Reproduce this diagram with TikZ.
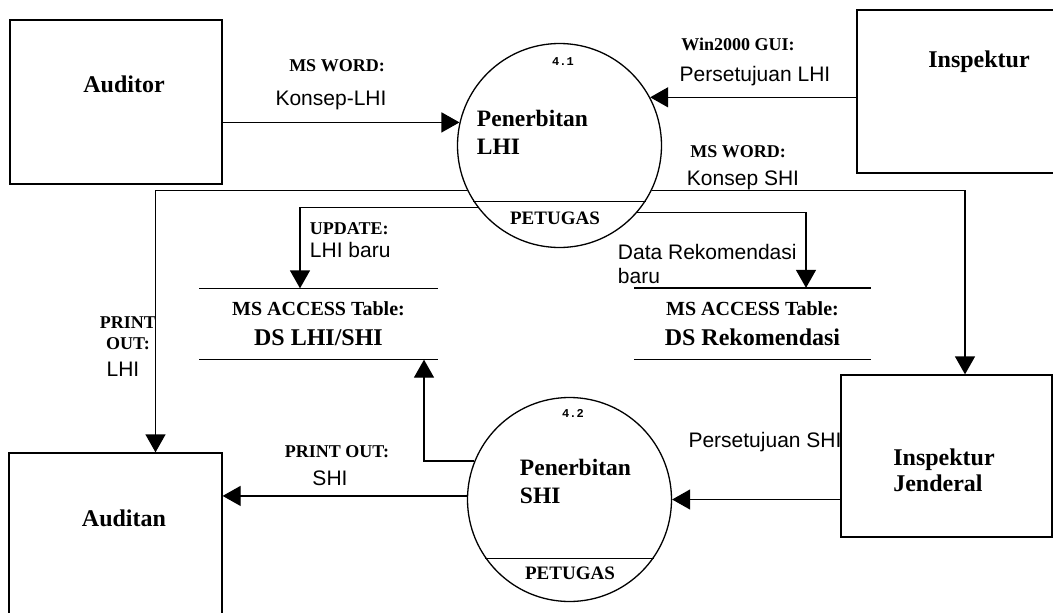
\documentclass[tikz,border=0pt]{standalone}
\usepackage{fontspec}
\setmainfont{Liberation Serif}
\setsansfont{Liberation Sans}
\setmonofont{Liberation Mono}
\usetikzlibrary{arrows.meta, calc}
\tikzset{
  every picture/.style={x=1pt, y=-1pt, line width=1.3pt},
  entity/.style={draw, inner sep=0pt},
  proc/.style={draw, circle, minimum size=204pt, inner sep=0pt},
  dstore/.style={minimum height=70pt, inner sep=0pt, align=center, font=\bfseries\fontsize{24}{30}\selectfont},
  flow/.style={-{Triangle[length=18pt, width=20pt]}},
  entname/.style={font=\bfseries\fontsize{24}{26}\selectfont, align=left},
  procname/.style={font=\bfseries\fontsize{23.5}{28}\selectfont, align=left, anchor=west},
  flowtag/.style={font=\bfseries\fontsize{18}{21}\selectfont, align=center},
  flowtext/.style={font=\sffamily\fontsize{21}{24}\selectfont, align=left},
  pnum/.style={font=\ttfamily\bfseries\fontsize{12}{14}\selectfont},
  staff/.style={font=\bfseries\fontsize{19}{21}\selectfont},
}
\begin{document}
\begin{tikzpicture}
  \useasboundingbox (0,0) rectangle (1053,613);
  % external entities
  \node[entity, minimum width=212pt, minimum height=164pt] (auditor) at (116,102) {};
  \node[entity, minimum width=244pt, minimum height=163pt] (inspektur) at (979,91.5) {};
  \node[entity, minimum width=211pt, minimum height=162pt] (injen) at (946.5,456) {};
  \node[entity, minimum width=213pt, minimum height=164pt] (auditan) at (115.5,535) {};
  \node[entname] at (124,84) {Auditor};
  \node[entname] at (979,62) {Inspektur};
  \node[entname] at (944,470) {Inspektur\\Jenderal};
  \node[entname] at (124,518) {Auditan};
  % processes
  \node[proc] (p41) at (559.5,145.5) {};
  \node[proc] (p42) at (569.5,499.5) {};
  \draw (p41.213) -- (p41.327);
  \draw (p42.215) -- (p42.325);
  \node[pnum] at (563,62) {4.1};
  \node[pnum] at (573,413) {4.2};
  \node[procname] at (473,132) {Penerbitan\\LHI};
  \node[procname] at (516,481.5) {Penerbitan\\SHI};
  \node[staff] at (555,218) {PETUGAS};
  \node[staff] at (570,573) {PETUGAS};
  % data stores
  \node[dstore, minimum width=237pt] (dslhi) at (318.5,324) {{\fontsize{20}{30}\selectfont MS ACCESS Table:}\\DS LHI/SHI};
  \node[dstore, minimum width=235pt] (dsrek) at (752.5,323.5) {{\fontsize{20}{30}\selectfont MS ACCESS Table:}\\DS Rekomendasi};
  \draw (dslhi.north west) -- (dslhi.north east) (dslhi.south west) -- (dslhi.south east);
  \draw (dsrek.north west) -- (dsrek.north east) (dsrek.south west) -- (dsrek.south east);
  % data flows
  \draw[flow] (p41.167 -| auditor.east) -- (p41.167);
  \draw[flow] (p41.28 -| inspektur.west) -- (p41.28);
  \draw[flow] (p41.-26) -| ($(injen.north)+(18.5,0)$);
  \draw[flow] (p41.206) -| ($(auditan.north)+(40,0)$);
  \draw[flow] (p41.217) -| ($(dslhi.north)+(-18.5,0)$);
  \draw[flow] (p41.-41) -| ($(dsrek.north)+(53.5,0)$);
  \draw[flow] (p42.158) -| ($(dslhi.south)+(105.5,0)$);
  \draw[flow] (p42.178) -- (p42.178 -| auditan.east);
  \draw[flow] (p42.east -| injen.west) -- (p42.east);
  % flow labels
  \node[flowtag] at (337,66) {MS WORD:};
  \node[flowtext] at (331,100) {Konsep-LHI};
  \node[flowtag] at (738,44) {Win2000 GUI:};
  \node[flowtext] at (755,76) {Persetujuan LHI};
  \node[flowtag] at (738,152) {MS WORD:};
  \node[flowtext] at (743,180) {Konsep SHI};
  \node[flowtag, anchor=west] at (306,229) {UPDATE:};
  \node[flowtext, anchor=west] at (306,250) {LHI baru};
  \node[flowtext, anchor=west] at (614,264) {Data Rekomendasi\\baru};
  \node[flowtag] at (128,333.5) {PRINT\\OUT:};
  \node[flowtext] at (123,369) {LHI};
  \node[flowtag] at (337,452) {PRINT OUT:};
  \node[flowtext] at (330,478) {SHI};
  \node[flowtext] at (765,442) {Persetujuan SHI};
\end{tikzpicture}
\end{document}
